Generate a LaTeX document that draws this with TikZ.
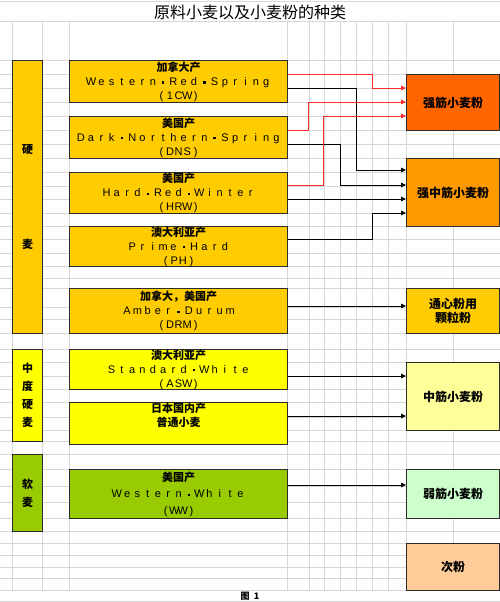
\documentclass[tikz,border=0pt]{standalone}
\usepackage{fontspec}
\setmainfont{Liberation Sans}
\newfontfamily\cjk{Noto Sans CJK SC}
\usetikzlibrary{arrows.meta}
\definecolor{gridGray}{HTML}{D6D6D6}
\definecolor{boxLine}{HTML}{2B2B2B}
\definecolor{hardFill}{HTML}{FFCC00}
\definecolor{midFill}{HTML}{FFFF00}
\definecolor{softFill}{HTML}{99CC00}
\definecolor{strongFill}{HTML}{FF6600}
\definecolor{semiFill}{HTML}{FF9900}
\definecolor{mediumFill}{HTML}{FFFF99}
\definecolor{weakFill}{HTML}{CCFFCC}
\definecolor{branFill}{HTML}{FFCC99}
\definecolor{redLine}{HTML}{FF2A2A}

% Chinese label and letter-spaced Latin label
\newcommand\zh[1]{{\cjk\bfseries #1}}
\newcommand\dt{\raisebox{0.3ex}{\rule{2.4pt}{2.4pt}}}
\makeatletter
\newcommand\spaced[2][10.3pt]{\def\sp@w{#1}\sp@loop#2\@nil}
\def\sp@loop#1{\ifx#1\@nil\else\makebox[\sp@w]{#1}\expandafter\sp@loop\fi}
\makeatother

\begin{document}
\begin{tikzpicture}[
  x=1pt,y=-1pt,
  grp/.style={draw=boxLine,line width=1.2pt,anchor=north west,inner sep=0pt,
    minimum width=30pt,align=center,font=\cjk\bfseries\fontsize{11}{18}\selectfont},
  src/.style={draw=boxLine,line width=1.2pt,anchor=north west,inner sep=0pt,
    minimum width=218pt,align=center,font=\fontsize{11}{14}\selectfont},
  flour/.style={draw=boxLine,line width=1.2pt,anchor=north west,inner sep=0pt,
    minimum width=93pt,align=center,font=\cjk\bfseries\fontsize{12}{14}\selectfont},
  ar/.style={-{Triangle[length=5pt,width=4.5pt]},line width=0.9pt,draw=black},
  arr/.style={-{Triangle[length=5pt,width=4.5pt]},line width=0.9pt,draw=redLine}
]
\useasboundingbox (0,0) rectangle (500,602);

% sheet grid
\foreach \gy in {1,21,60,74,88,102,116,130,144,158,172,186,199,213,226,239,253,266,
    278,288,307,319,333,349,362,376,389,402,417,430,441,454,469,486,502,518,531,
    543,555,567,578,590,601}
  \draw[gridGray,line width=0.8pt] (0,\gy) -- (500,\gy);
\foreach \gx in {12,42,69,287,309,324,340,356,372,388,406,453}
  \draw[gridGray,line width=0.8pt] (\gx,21) -- (\gx,590);

\node[font=\cjk\fontsize{16}{16}\selectfont] (title) at (250,12) {原料小麦以及小麦粉的种类};
\node[font=\cjk\bfseries\fontsize{9}{9}\selectfont] (fig) at (250,596) {图\ \ 1};

% wheat groups
\node[grp,fill=hardFill,minimum height=273pt] (hard) at (12,60) {硬\\[77pt]麦};
\node[grp,fill=midFill,minimum height=92pt] (semihard) at (12,349) {中\\度\\硬\\麦};
\node[grp,fill=softFill,minimum height=77pt] (soft) at (12,454) {软\\麦};

% wheat sources
\node[src,fill=hardFill,minimum height=42pt] (wrs) at (69,60)
  {\zh{加拿大产}\\\spaced{Western\dt Red\dt Spring}\\\spaced[8.6pt]{(1CW)}};
\node[src,fill=hardFill,minimum height=42pt] (dns) at (69,116)
  {\zh{美国产}\\\spaced{Dark\dt Northern\dt Spring}\\\spaced[8.6pt]{(DNS)}};
\node[src,fill=hardFill,minimum height=41pt] (hrw) at (69,172)
  {\zh{美国产}\\\spaced{Hard\dt Red\dt Winter}\\\spaced[8.6pt]{(HRW)}};
\node[src,fill=hardFill,minimum height=40pt] (ph) at (69,226)
  {\zh{澳大利亚产}\\\spaced{Prime\dt Hard}\\\spaced[8.6pt]{(PH)}};
\node[src,fill=hardFill,minimum height=45pt] (drm) at (69,288)
  {\zh{加拿大，美国产}\\\spaced{Amber\dt Durum}\\\spaced[8.6pt]{(DRM)}};
\node[src,fill=midFill,minimum height=40pt] (asw) at (69,349)
  {\zh{澳大利亚产}\\\spaced{Standard\dt White}\\\spaced[8.6pt]{(ASW)}};
\node[src,fill=midFill,minimum height=39pt] (jpn) at (69,402)
  {\zh{日本国内产}\\\zh{普通小麦}\\\strut};
\node[src,fill=softFill,minimum height=49pt] (ww) at (69,469)
  {\zh{美国产}\\[2.5pt]\spaced{Western\dt White}\\[2.5pt]\spaced[8.6pt]{(WW)}};

% flours
\node[flour,fill=strongFill,minimum height=56pt] (strong) at (406,74) {强筋小麦粉};
\node[flour,fill=semiFill,minimum height=68pt] (semistrong) at (406,158) {强中筋小麦粉};
\node[flour,fill=hardFill,minimum height=45pt] (durum) at (406,288) {通心粉用\\颗粒粉};
\node[flour,fill=mediumFill,minimum height=68pt] (medium) at (406,362) {中筋小麦粉};
\node[flour,fill=weakFill,minimum height=49pt] (weak) at (406,469) {弱筋小麦粉};
\node[flour,fill=branFill,minimum height=47pt] (bran) at (406,543) {次粉};

% connections
\draw[ar] (wrs.east |- 0,88) -- (356,88) |- (semistrong.west |- 0,170);
\draw[ar] (dns.east |- 0,144) -- (340,144) |- (semistrong.west |- 0,185);
\draw[ar] (hrw.east |- 0,199) -- (semistrong.west |- 0,199);
\draw[ar] (ph.east |- 0,239) -- (372,239) |- (semistrong.west |- 0,213);
\draw[arr] (wrs.east |- 0,74) -- (372,74) |- (strong.west |- 0,88);
\draw[arr] (dns.east |- 0,130) -- (308,130) |- (strong.west |- 0,102);
\draw[arr] (hrw.east |- 0,185) -- (323,185) |- (strong.west |- 0,116);
\draw[ar] (drm.east |- 0,306) -- (durum.west |- 0,306);
\draw[ar] (asw.east |- 0,376) -- (medium.west |- 0,376);
\draw[ar] (jpn.east |- 0,416) -- (medium.west |- 0,416);
\draw[ar] (ww.east |- 0,485) -- (weak.west |- 0,485);
\end{tikzpicture}
\end{document}
